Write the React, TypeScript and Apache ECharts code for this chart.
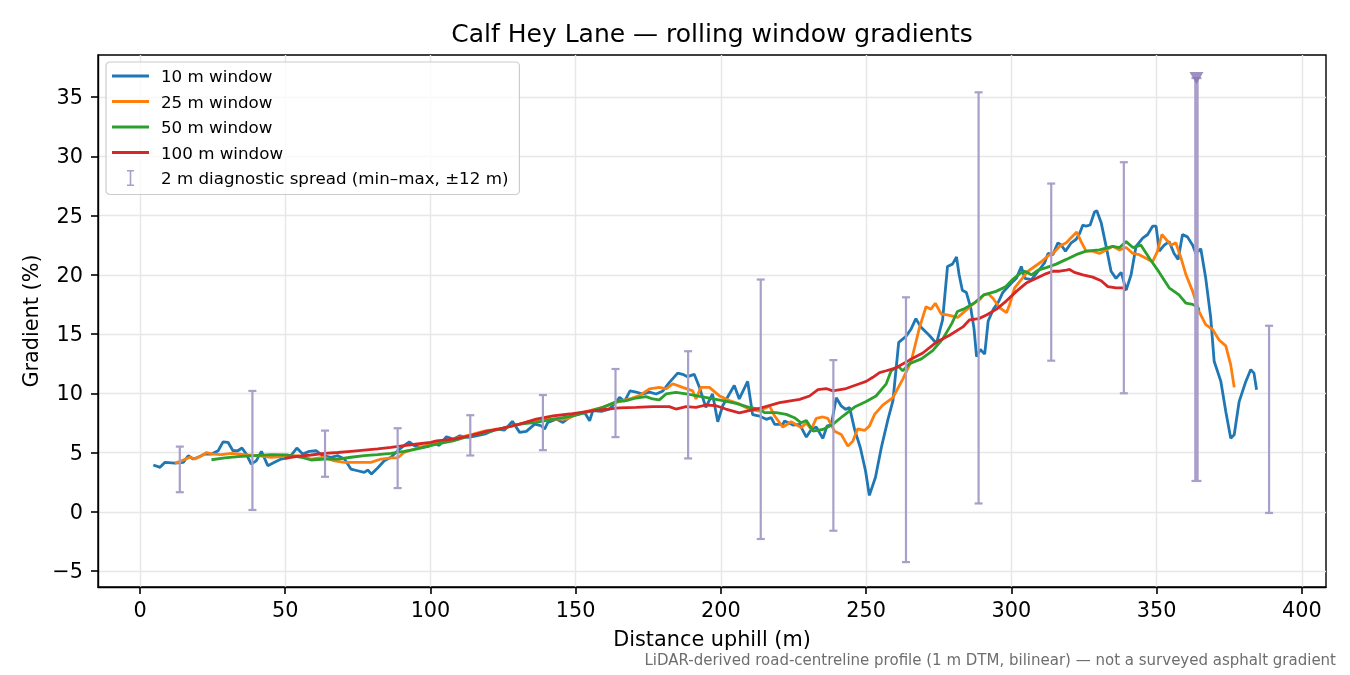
import { useEffect, useRef } from "react";
import * as echarts from "echarts";

const FONT = "DejaVu Sans";

const xTicks = [0, 50, 100, 150, 200, 250, 300, 350, 400];
const yTicks = [-5, 0, 5, 10, 15, 20, 25, 30, 35];
const X_RANGE = [-14.46, 408.3];
const Y_RANGE = [-6.35, 38.55];

const seriesNames = ["10 m window", "25 m window", "50 m window", "100 m window"];
const spreadName = "2 m diagnostic spread (min–max, ±12 m)";
const lineColors = ["#1f77b4", "#ff7f0e", "#2ca02c", "#d62728"];
const ERR = "#a99fc9";

// distance (m), gradient (%)
const win10: [number, number][] = [
  [4.6, 3.95], [6.9, 3.75], [8.6, 4.17], [12, 4.1], [14.9, 4.17], [16.6, 4.73], [18.3, 4.45], [20, 4.6],
  [22.3, 4.87], [24.6, 4.87], [26.9, 5.15], [28.6, 5.9], [30.3, 5.86], [32, 5.15], [33.7, 5.15], [35.1, 5.38],
  [36.6, 4.87], [38.3, 4.03], [40, 4.3], [41.8, 5.1], [44, 3.89], [46.3, 4.17], [48.6, 4.45], [51.5, 4.6],
  [54, 5.38], [56, 4.87], [58.3, 5.1], [60.6, 5.15], [62.9, 4.73], [65.8, 4.6], [68.1, 4.73], [70.4, 4.45],
  [72.6, 3.6], [74.9, 3.46], [77.2, 3.32], [78.4, 3.52], [79.7, 3.18], [81.8, 3.69], [84.1, 4.3], [86.4, 4.6],
  [88.7, 5.15], [90.9, 5.58], [92.7, 5.9], [94.4, 5.58], [96.7, 5.44], [98.9, 5.49], [101.2, 5.8], [103, 5.6],
  [105.5, 6.33], [107.8, 6.13], [110.1, 6.41], [112.9, 6.27], [115.8, 6.41], [119.2, 6.6], [122.7, 6.98],
  [125.5, 6.9], [128.2, 7.63], [130.7, 6.7], [133, 6.78], [135.9, 7.4], [138.1, 7.26], [139.3, 6.98],
  [140.4, 7.54], [143.3, 7.82], [145.6, 7.54], [148.5, 8.1], [151.3, 8.25], [153, 8.39], [154.8, 7.68],
  [155.9, 8.53], [158.8, 8.47], [161.6, 8.67], [163.9, 9.24], [165.1, 9.66], [166.8, 9.32], [168.7, 10.2],
  [170.8, 10.1], [173.1, 9.94], [175.4, 10.1], [177.7, 9.94], [180, 10.2], [182.2, 10.9], [185.1, 11.7],
  [186.8, 11.6], [188.5, 11.4], [190.8, 11.6], [192.6, 10.5], [194.8, 8.81], [197.1, 9.94], [198.9, 7.6],
  [200.6, 8.95], [202.9, 9.94], [204.6, 10.65], [206.3, 9.52], [209.2, 11.0], [210.9, 8.2], [213.3, 8.08],
  [215.6, 7.8], [217.3, 7.94], [218.5, 7.37], [221.3, 7.37], [221.9, 7.66], [224.8, 7.32], [227.1, 7.37],
  [229.4, 6.3], [231.1, 6.95], [232.8, 7.15], [235.1, 6.19], [236.5, 7.23], [238, 7.37], [239.7, 9.63],
  [241.4, 8.93], [242.9, 8.64], [244.3, 8.79], [246, 6.95], [248, 5.4], [249.8, 3.42], [251.1, 1.38],
  [253.2, 2.91], [255.2, 5.4], [257.5, 7.8], [259.2, 9.35], [261.2, 14.3], [263.7, 14.8], [265.4, 15.4],
  [267.1, 16.3], [268.8, 15.6], [271.7, 14.9], [274.2, 14.2], [276.3, 16.2], [278, 20.7], [279.7, 20.9],
  [281.1, 21.5], [282, 20.0], [283.1, 18.7], [284.5, 18.5], [286, 17.2], [287.1, 15.5], [288, 13.1],
  [289.3, 13.7], [290.8, 13.3], [292, 16.1], [293.8, 17.1], [295.5, 17.7], [297, 18.5], [300, 19.3],
  [301.7, 19.7], [303.4, 20.7], [304.6, 19.7], [306.9, 19.6], [309.2, 20.3], [311.4, 21.0], [312.6, 21.8],
  [314.3, 21.7], [316, 22.7], [317.2, 22.5], [318.6, 22.0], [320.6, 22.7], [322.3, 23.0], [323.5, 23.5],
  [324.6, 24.2], [325.7, 24.1], [327.1, 24.2], [328.6, 25.3], [329.4, 25.4], [330.9, 24.4], [332.6, 22.4],
  [334.3, 20.3], [336, 19.7], [337.8, 20.2], [339.5, 18.7], [341.2, 20.0], [342.9, 22.4], [345.2, 23.1],
  [346.9, 23.4], [348.6, 24.1], [349.8, 24.1], [350.9, 22.0], [352.6, 22.5], [354.3, 22.8], [356, 21.8],
  [357.4, 21.3], [358.9, 23.4], [360.6, 23.2], [362.4, 22.5], [363.5, 21.8], [365.2, 22.2], [366.9, 19.7],
  [368.6, 16.4], [369.8, 12.7], [372.1, 11.0], [373.8, 8.46], [375.5, 6.2], [376.7, 6.5], [378.4, 9.3],
  [380.7, 11.0], [382.4, 12.0], [383.5, 11.7], [384.4, 10.3],
];

const win25: [number, number][] = [
  [12, 4.1], [14.3, 4.3], [17.2, 4.6], [18.9, 4.45], [21.2, 4.73], [22.9, 5.0], [25.2, 4.87], [28, 4.82],
  [31.5, 4.93], [36, 4.82], [40.6, 4.73], [45.2, 4.6], [49.8, 4.68], [54.3, 4.73], [58.9, 4.45], [63.5, 4.6],
  [66.9, 4.3], [70.4, 4.17], [74.9, 4.17], [79.5, 4.17], [83, 4.45], [86.4, 4.54], [88.7, 4.54], [90.9, 5.0],
  [95.5, 5.38], [100.1, 5.72], [103.2, 5.85], [110.1, 6.27], [114.7, 6.55], [119.2, 6.84], [123.8, 6.98],
  [128.4, 7.26], [133, 7.54], [137.6, 7.82], [142.2, 7.82], [146.7, 7.82], [150.2, 8.19], [154.8, 8.53],
  [159.3, 8.81], [163.9, 9.24], [168.5, 9.52], [171.9, 9.8], [175.4, 10.37], [178.8, 10.5], [181.1, 10.37],
  [183.4, 10.8], [186.8, 10.5], [190.3, 10.2], [191.4, 9.52], [193.1, 10.5], [196, 10.5], [199.4, 9.8],
  [202.9, 9.38], [206.3, 9.1], [209.9, 8.64], [213.3, 8.5], [216.7, 8.93], [218.5, 8.08], [221.3, 7.15],
  [224.2, 7.6], [227.6, 7.1], [229.4, 7.5], [231.1, 6.95], [232.8, 7.88], [235.1, 8.0], [236.8, 7.88],
  [239.1, 6.8], [241.4, 6.53], [243.7, 5.54], [245.4, 5.96], [247.1, 7.0], [249.4, 6.86], [251.1, 7.23],
  [252.9, 8.22], [255.7, 9.0], [259.2, 9.63], [262.6, 11.2], [265.5, 12.7], [268.3, 15.5], [270.6, 17.3],
  [272.3, 17.1], [273.8, 17.6], [275.8, 16.7], [278.3, 16.6], [281.5, 16.4], [284.3, 17.0], [287.1, 17.6],
  [289.1, 17.9], [290.5, 18.3], [292, 18.4], [293.7, 18.0], [296, 17.2], [298.3, 16.8], [299.4, 17.5],
  [301.1, 18.9], [303.4, 19.6], [305.7, 20.3], [308, 20.7], [310.3, 21.1], [312.6, 21.6], [314.3, 21.8],
  [316.6, 22.4], [318.9, 22.7], [321.2, 23.3], [322.5, 23.6], [324, 22.8], [325.7, 22.0], [328, 22.0],
  [330.3, 21.8], [332.6, 22.1], [334.9, 22.4], [337.2, 22.1], [339.5, 22.3], [341.8, 21.8], [344, 21.7],
  [346.3, 21.4], [348.6, 21.1], [350.3, 22.0], [351.8, 23.4], [353.2, 23.0], [354.9, 22.5], [356.6, 22.7],
  [358.4, 21.4], [360.1, 20.0], [362.4, 18.6], [364.6, 16.9], [366.9, 15.8], [369.2, 15.4], [371.5, 14.5],
  [373.8, 14.0], [375.5, 12.4], [376.7, 10.5],
];

const win50: [number, number][] = [
  [24.6, 4.39], [29.2, 4.54], [33.8, 4.65], [39.5, 4.73], [45.2, 4.82], [50.9, 4.79], [55.5, 4.6], [58.9, 4.37],
  [63.5, 4.45], [68.1, 4.45], [72.6, 4.6], [77.2, 4.73], [81.8, 4.82], [86.4, 4.93], [90.9, 5.1], [95.5, 5.3],
  [100.1, 5.58], [102.1, 5.7], [107.8, 5.99], [113.5, 6.41], [119.2, 6.7], [125, 7.06], [130.7, 7.4],
  [136.4, 7.54], [142.2, 7.82], [147.9, 8.02], [153.6, 8.39], [159.3, 8.81], [163.9, 9.29], [167.4, 9.38],
  [170.8, 9.6], [174.2, 9.72], [176.5, 9.52], [178.8, 9.44], [181.1, 9.94], [184.5, 10.08], [188, 9.94],
  [191.4, 9.8], [196, 9.6], [200.6, 9.38], [205.2, 9.15], [209.7, 8.81], [213.2, 8.67], [215, 8.36],
  [219, 8.36], [222.5, 8.22], [225.3, 7.94], [227.6, 7.51], [229.4, 7.71], [231.7, 6.81], [235.1, 6.95],
  [238.5, 7.37], [242, 8.08], [246, 8.84], [250, 9.3], [253.4, 9.77], [256.9, 10.8], [258.6, 11.9],
  [260.9, 12.3], [262.6, 11.9], [264.9, 12.5], [269, 12.9], [272.9, 13.6], [276.4, 14.6], [279.5, 15.9],
  [281.4, 16.9], [283.5, 17.1], [287.1, 17.6], [290.5, 18.3], [294.7, 18.6], [298, 19.0], [300.4, 19.6],
  [302.9, 20.1], [304.6, 20.3], [306.9, 20.0], [309.2, 20.4], [312, 20.6], [315.4, 20.9], [318.9, 21.3],
  [322.3, 21.7], [325.7, 22.0], [330.3, 22.1], [334.9, 22.4], [337.2, 22.3], [339.5, 22.8], [341.8, 22.3],
  [344.6, 22.5], [347.5, 21.4], [350.9, 20.2], [354.3, 18.9], [357.7, 18.3], [360.1, 17.6], [362.4, 17.5],
  [364.1, 17.3], [364.6, 17.0],
];

const win100: [number, number][] = [
  [49.8, 4.5], [54.3, 4.68], [58.9, 4.79], [63.5, 4.93], [68.1, 5.0], [72.6, 5.1], [77.2, 5.2], [81.8, 5.3],
  [86.4, 5.44], [90.9, 5.58], [95.5, 5.72], [100.1, 5.86], [102.1, 5.99], [107.8, 6.13], [113.5, 6.41],
  [119.2, 6.78], [125, 7.06], [130.7, 7.4], [136.4, 7.82], [142.2, 8.1], [147.9, 8.25], [153.6, 8.45],
  [159.3, 8.62], [165.1, 8.76], [170.8, 8.81], [176.5, 8.87], [182.2, 8.87], [184.5, 8.67], [188, 8.87],
  [191.4, 8.81], [194.8, 9.01], [198.3, 8.95], [201.7, 8.67], [206.3, 8.35], [209.7, 8.53], [213.3, 8.73],
  [220.2, 9.21], [227.1, 9.49], [230.5, 9.77], [233.4, 10.3], [236.2, 10.4], [238.5, 10.2], [243.1, 10.4],
  [247.7, 10.8], [250, 11.0], [252.3, 11.35], [254.6, 11.75], [256.9, 11.9], [260.3, 12.15], [264.9, 12.8],
  [269.5, 13.4], [274.1, 14.3], [278.7, 14.9], [283.3, 15.6], [285.6, 16.2], [288.8, 16.3], [291.4, 16.6],
  [294.9, 17.1], [298.3, 17.8], [301.7, 18.6], [305.1, 19.3], [308.6, 19.7], [312, 20.1], [314.3, 20.3],
  [316.6, 20.3], [318.9, 20.4], [320, 20.45], [321.7, 20.2], [324.6, 20.0], [328, 19.8], [330.9, 19.5],
  [333.2, 19.0], [336, 18.9], [338.3, 18.9], [339.5, 18.7],
];

// 2 m diagnostic spread, sampled every 25 m
const spreadX = [13.7, 38.7, 63.7, 88.7, 113.7, 138.7, 163.7, 188.7, 213.7, 238.7, 263.7, 288.7, 313.7, 338.7, 363.7, 388.7];
const spreadLo = [1.65, 0.15, 2.95, 2.0, 4.75, 5.2, 6.3, 4.5, -2.3, -1.6, -4.25, 0.7, 12.75, 10.0, 2.6, -0.1];
const spreadHi = [5.5, 10.2, 6.85, 7.05, 8.15, 9.85, 12.05, 13.55, 19.6, 12.8, 18.1, 35.4, 27.7, 29.5, 36.6, 15.7];
const steepIndex = 14;
const steepMarker: [number, number][] = [[363.7, 36.6]];

const lineData = [win10, win25, win50, win100];

// legend glyphs: bounding box 37x17 kept by the leading move-to points
const LINE_ICON = "path://M0,0M37,17M0,7.1H37V9.9H0Z";
const BAR_ICON = "path://M0,0M37,17M15,0.5H22V2.1H19.3V14.9H22V16.5H15V14.9H17.7V2.1H15Z";

export default function App() {
  const box = useRef<HTMLDivElement>(null);

  useEffect(() => {
    if (!box.current) return;
    const c = echarts.init(box.current, undefined, { renderer: "svg" });

    const axisText = { fontFamily: FONT, fontSize: 20.8, color: "#000" };
    const spine = { show: true, onZero: false, lineStyle: { color: "#000", width: 1.4 } };
    const tick = { show: true, inside: false, length: 7, lineStyle: { color: "#000", width: 1.6 } };

    c.setOption({
      animation: false,
      textStyle: { fontFamily: FONT },
      grid: { left: 98, right: 24, top: 55, bottom: 88, show: true, borderColor: "#000", borderWidth: 1.4, backgroundColor: "transparent" },
      graphic: [
        {
          type: "text",
          x: 712,
          y: 33,
          style: { text: "Calf Hey Lane — rolling window gradients", align: "center", verticalAlign: "middle", fontFamily: FONT, fontSize: 25, fill: "#000" },
        },
        {
          type: "text",
          x: 1336,
          y: 660,
          style: {
            text: "LiDAR-derived road-centreline profile (1 m DTM, bilinear) — not a surveyed asphalt gradient",
            align: "right",
            verticalAlign: "middle",
            fontFamily: FONT,
            fontSize: 15,
            fill: "#6e6e6e",
          },
        },
      ],
      legend: {
        orient: "vertical",
        left: 106,
        top: 62,
        padding: [5.5, 11, 8, 6],
        itemGap: 8.5,
        itemWidth: 37,
        itemHeight: 17,
        selectedMode: false,
        backgroundColor: "rgba(255,255,255,0.8)",
        borderColor: "#cccccc",
        borderWidth: 1.2,
        borderRadius: 4,
        textStyle: { fontFamily: FONT, fontSize: 16.7, color: "#000", lineHeight: 17, padding: [0, 0, 0, 7] },
        data: [
          ...seriesNames.map((name) => ({ name, icon: LINE_ICON })),
          { name: spreadName, icon: BAR_ICON },
        ],
      },
      xAxis: {
        type: "value",
        min: X_RANGE[0],
        max: X_RANGE[1],
        name: "Distance uphill (m)",
        nameLocation: "middle",
        nameGap: 41,
        nameTextStyle: axisText,
        axisLine: spine,
        axisTick: { ...tick, customValues: xTicks },
        axisLabel: { ...axisText, margin: 12, customValues: xTicks },
        splitLine: { show: true, lineStyle: { color: "#e7e7e7", width: 1.4 } },
      },
      yAxis: {
        type: "value",
        min: Y_RANGE[0],
        max: Y_RANGE[1],
        name: "Gradient (%)",
        nameLocation: "middle",
        nameGap: 55,
        nameTextStyle: axisText,
        axisLine: spine,
        axisTick: { ...tick, customValues: yTicks },
        axisLabel: { ...axisText, margin: 15, customValues: yTicks, formatter: (v: number) => (v < 0 ? `−${-v}` : `${v}`) },
        splitLine: { show: true, lineStyle: { color: "#e7e7e7", width: 1.4 } },
      },
      series: [
        ...lineData.map((d, i) => ({
          type: "line",
          name: seriesNames[i],
          data: d,
          showSymbol: false,
          symbol: "none",
          color: lineColors[i],
          lineStyle: { color: lineColors[i], width: 2.8 },
          silent: true,
          z: 2 + i,
        })),
        {
          type: "custom",
          name: spreadName,
          data: spreadX.map((x, i) => [x, spreadLo[i], spreadHi[i]]),
          encode: { x: 0, y: [1, 2] },
          itemStyle: { color: ERR },
          silent: true,
          z: 10,
          renderItem: (params: any, api: any) => {
            const x = api.value(0);
            const top = api.coord([x, api.value(2)]);
            const bot = api.coord([x, api.value(1)]);
            const heavy = params.dataIndex === steepIndex;
            const cap = heavy ? 5 : 4;
            const stem = { stroke: ERR, lineWidth: heavy ? 4.5 : 2.2 };
            const capStyle = { stroke: ERR, lineWidth: 2.2 };
            return {
              type: "group",
              children: [
                { type: "line", shape: { x1: top[0], y1: top[1], x2: bot[0], y2: bot[1] }, style: stem },
                { type: "line", shape: { x1: top[0] - cap, y1: top[1], x2: top[0] + cap, y2: top[1] }, style: capStyle },
                { type: "line", shape: { x1: bot[0] - cap, y1: bot[1], x2: bot[0] + cap, y2: bot[1] }, style: capStyle },
              ],
            };
          },
        },
        {
          type: "scatter",
          name: "steepest",
          data: steepMarker,
          symbol: "triangle",
          symbolRotate: 180,
          symbolSize: [14, 12],
          itemStyle: { color: "#8574b3" },
          silent: true,
          z: 11,
        },
      ],
    });

    return () => c.dispose();
  }, []);

  return <div ref={box} style={{ position: "fixed", left: 0, top: 0, width: 1350, height: 675 }} />;
}
